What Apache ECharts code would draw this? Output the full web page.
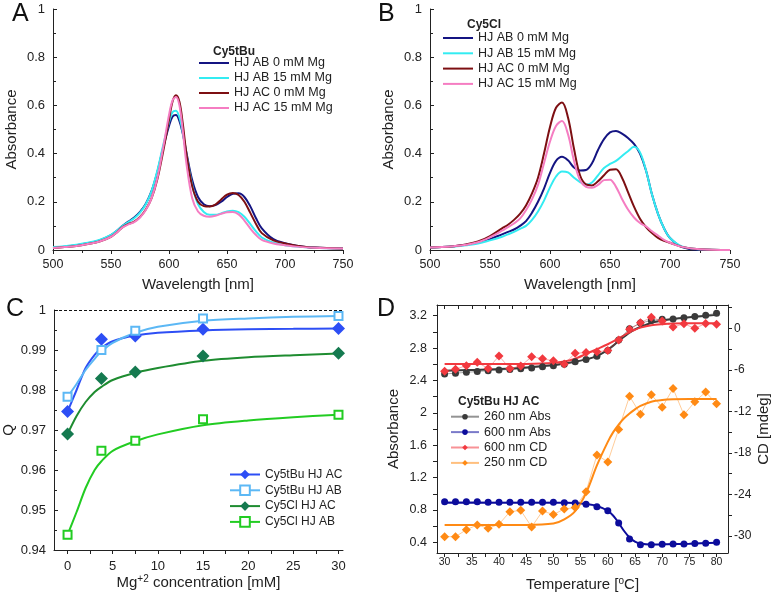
<!DOCTYPE html>
<html>
<head>
<meta charset="utf-8">
<script src="https://cdn.jsdelivr.net/npm/echarts@6/dist/echarts.min.js"></script>
<style>
html, body { margin: 0; padding: 0; background: #fff; }
#chart { width: 774px; height: 597px; }
</style>
</head>
<body>
<div id="chart"></div>
<script>
// ---- panel A : Cy5tBu spectra ----
var wlA = [500, 510, 520, 530, 540, 550, 555, 560, 565, 570, 575, 580, 585, 590, 595, 600, 603, 606, 609, 612, 615, 620, 625, 630, 635, 640, 645, 650, 655, 660, 665, 670, 675, 680, 690, 700, 710, 725, 750];
var tbuAB0  = [.010, .014, .020, .028, .040, .062, .080, .100, .118, .135, .158, .192, .245, .325, .425, .515, .553, .560, .535, .480, .405, .290, .220, .190, .182, .186, .200, .220, .233, .235, .220, .182, .132, .090, .045, .028, .018, .010, .006];
var tbuAB15 = [.012, .016, .022, .030, .042, .063, .080, .100, .116, .132, .155, .190, .245, .330, .435, .530, .572, .578, .550, .485, .395, .270, .190, .158, .146, .146, .152, .160, .163, .157, .138, .108, .077, .052, .030, .020, .014, .009, .006];
var tbuAC0  = [.008, .012, .017, .025, .035, .055, .073, .095, .108, .118, .137, .168, .215, .295, .410, .540, .615, .642, .615, .520, .400, .265, .200, .182, .180, .188, .210, .230, .237, .228, .200, .155, .108, .070, .040, .027, .018, .010, .006];
var tbuAC15 = [.008, .012, .017, .025, .035, .055, .073, .094, .106, .116, .135, .166, .215, .300, .425, .560, .620, .635, .600, .490, .360, .215, .160, .142, .138, .142, .150, .157, .158, .148, .122, .090, .062, .042, .027, .020, .014, .009, .006];

// ---- panel B : Cy5Cl spectra ----
var wlB = [500, 510, 520, 530, 540, 550, 560, 565, 570, 575, 580, 585, 590, 595, 600, 605, 610, 615, 620, 625, 630, 635, 640, 645, 650, 655, 660, 665, 670, 675, 680, 685, 690, 695, 700, 710, 725, 750];
var clAB0  = [.010, .012, .016, .022, .030, .045, .065, .075, .085, .100, .120, .155, .200, .255, .320, .370, .387, .372, .342, .330, .332, .360, .415, .460, .488, .494, .483, .465, .440, .400, .330, .230, .150, .090, .050, .012, .001, .000];
var clAB15 = [.010, .012, .015, .020, .027, .040, .055, .065, .075, .088, .100, .125, .160, .205, .260, .305, .326, .322, .300, .282, .271, .280, .310, .340, .357, .370, .390, .410, .428, .405, .330, .230, .150, .090, .050, .015, .003, .000];
var clAC0  = [.010, .012, .016, .023, .035, .058, .090, .105, .125, .150, .185, .235, .300, .400, .510, .590, .612, .550, .420, .310, .272, .268, .285, .310, .333, .335, .300, .240, .180, .130, .095, .070, .050, .038, .030, .013, .003, .000];
var clAC15 = [.010, .012, .016, .022, .032, .053, .080, .095, .110, .130, .165, .210, .270, .360, .450, .515, .535, .480, .370, .290, .262, .258, .270, .290, .292, .262, .212, .168, .135, .112, .098, .078, .060, .042, .030, .013, .003, .000];

// ---- panel C : Q vs Mg ----
var mgConc = [0, 3.75, 7.5, 15, 30];
var qTbuAC = [0.9746, 0.9927, 0.9935, 0.9952, 0.9954];
var qTbuAB = [0.9783, 0.9900, 0.9948, 0.9979, 0.9985];
var qClAC  = [0.9690, 0.9829, 0.9845, 0.9885, 0.9892];
var qClAB  = [0.9438, 0.9648, 0.9673, 0.9727, 0.9738];
var mgFit = [0, 1, 2, 3, 3.75, 5, 7.5, 10, 15, 20, 25, 30];
var fitTbuAC = [0.9746, 0.9800, 0.9855, 0.9888, 0.9905, 0.9922, 0.9936, 0.9943, 0.9949, 0.9952, 0.9953, 0.9954];
var fitTbuAB = [0.9783, 0.9815, 0.9850, 0.9878, 0.9896, 0.9918, 0.9943, 0.9958, 0.9973, 0.9979, 0.9983, 0.9985];
var fitClAC  = [0.9690, 0.9735, 0.9770, 0.9795, 0.9808, 0.9825, 0.9843, 0.9855, 0.9873, 0.9882, 0.9887, 0.9891];
var fitClAB  = [0.9438, 0.9495, 0.9555, 0.9600, 0.9622, 0.9648, 0.9672, 0.9689, 0.9712, 0.9724, 0.9732, 0.9738];

// ---- panel D : melting, Cy5tBu HJ AC ----
var tempPts = [30, 32, 34, 36, 38, 40, 42, 44, 46, 48, 50, 52, 54, 56, 58, 60, 62, 64, 66, 68, 70, 72, 74, 76, 78, 80];
var abs260 = [2.48, 2.49, 2.50, 2.51, 2.52, 2.53, 2.535, 2.545, 2.555, 2.57, 2.58, 2.60, 2.63, 2.66, 2.70, 2.77, 2.90, 3.04, 3.11, 3.14, 3.155, 3.16, 3.175, 3.19, 3.205, 3.23];
var abs600 = [0.90, 0.90, 0.90, 0.90, 0.895, 0.895, 0.895, 0.895, 0.895, 0.895, 0.895, 0.89, 0.885, 0.87, 0.84, 0.79, 0.64, 0.44, 0.37, 0.37, 0.376, 0.38, 0.38, 0.385, 0.39, 0.40];
var cd600 = [-6.2, -5.9, -5.4, -4.9, -5.8, -4.0, -5.8, -5.45, -4.1, -4.4, -4.7, -5.15, -3.6, -3.5, -3.4, -3.2, -1.7, -0.15, 0.8, 1.6, 1.05, 0.2, 0.65, 0.0, 0.7, 0.6];
var cd250 = [-30.1, -30.1, -29.1, -28.4, -28.9, -28.3, -26.5, -26.3, -28.7, -26.4, -26.9, -26.1, -25.9, -23.6, -18.3, -19.3, -14.6, -9.8, -12.4, -9.6, -11.4, -8.7, -12.5, -10.6, -9.2, -10.9];
var tempFit = [30, 35, 40, 45, 50, 52, 54, 56, 58, 60, 61, 62, 63, 64, 65, 66, 68, 70, 72, 75, 80];
var fit260 = [2.52, 2.53, 2.54, 2.56, 2.59, 2.61, 2.63, 2.66, 2.70, 2.78, 2.83, 2.89, 2.94, 2.99, 3.03, 3.06, 3.11, 3.14, 3.16, 3.18, 3.21];
var fit600 = [0.89, 0.89, 0.89, 0.89, 0.89, 0.888, 0.885, 0.875, 0.85, 0.79, 0.73, 0.64, 0.54, 0.46, 0.41, 0.385, 0.372, 0.375, 0.378, 0.382, 0.395];
var fitCd600 = [-5.16, -5.16, -5.16, -5.14, -5.0, -4.8, -4.4, -3.7, -3.0, -2.3, -1.9, -1.45, -1.0, -0.55, -0.2, 0.1, 0.45, 0.6, 0.68, 0.72, 0.73];
var fitCd250 = [-28.4, -28.4, -28.4, -28.4, -28.2, -27.6, -26.4, -23.8, -19.8, -16.4, -15.0, -13.9, -13.0, -12.3, -11.7, -11.2, -10.6, -10.35, -10.25, -10.2, -10.2];

var FONT = 'Liberation Sans, Arial, sans-serif';
var INK = '#222';

function pairs(xs, ys) {
	return xs.map(function (x, i) { return [x, ys[i]]; });
}

function merge(a, b) {
	var out = {};
	Object.keys(a).forEach(function (k) { out[k] = a[k]; });
	Object.keys(b || {}).forEach(function (k) {
		if (out[k] && typeof out[k] === 'object' && !Array.isArray(out[k]) && typeof b[k] === 'object' && !Array.isArray(b[k])) {
			out[k] = merge(out[k], b[k]);
		} else {
			out[k] = b[k];
		}
	});
	return out;
}

function axis(extra) {
	return merge({
		type: 'value',
		axisLine: { show: true, onZero: false, lineStyle: { color: INK, width: 1 } },
		axisTick: { show: true, inside: false, length: 4, lineStyle: { color: INK } },
		axisLabel: { color: INK, fontFamily: FONT, fontSize: 13, margin: 8 },
		splitLine: { show: false },
		nameLocation: 'middle',
		nameTextStyle: { color: INK, fontFamily: FONT, fontSize: 15 }
	}, extra);
}

function spec(name, xs, ys, color, gi) {
	return {
		name: name, type: 'line', xAxisIndex: gi, yAxisIndex: gi,
		data: pairs(xs, ys), symbol: 'none', smooth: 0.35,
		lineStyle: { color: color, width: 2 }, itemStyle: { color: color }
	};
}

function qPoints(name, ys, color, fill, symbol, size) {
	return {
		name: name, type: 'line', xAxisIndex: 2, yAxisIndex: 2, z: 4,
		data: pairs(mgConc, ys), symbol: symbol, symbolSize: size,
		itemStyle: { color: fill, borderColor: color, borderWidth: fill === '#fff' ? 2 : 0 },
		lineStyle: { color: color, width: 2, opacity: 0 }
	};
}

function qFit(ys, color) {
	return {
		name: 'fit', type: 'line', xAxisIndex: 2, yAxisIndex: 2, z: 3,
		data: pairs(mgFit, ys), symbol: 'none', smooth: 0.3,
		lineStyle: { color: color, width: 2 }
	};
}

function dPoints(name, ys, yi, color, symbol, size) {
	return {
		name: name, type: 'line', xAxisIndex: 3, yAxisIndex: yi, z: 4,
		data: pairs(tempPts, ys), symbol: symbol, symbolSize: size,
		itemStyle: { color: color },
		lineStyle: { color: color, width: 0.8, opacity: 0.55 }
	};
}

function dFit(ys, yi, color) {
	return {
		name: 'fit', type: 'line', xAxisIndex: 3, yAxisIndex: yi, z: 3,
		data: pairs(tempFit, ys), symbol: 'none', smooth: 0.3,
		lineStyle: { color: color, width: 2 }
	};
}

var navy = '#141482', cyan = '#33ecf2', darkRed = '#7d0f12', pink = '#f57dc2';
var blueAC = '#2d4ef5', blueAB = '#5cb8f5', greenACLine = '#1e8c30', greenACMark = '#157a50', greenAB = '#22cc22';
var dBlack = '#3a3a3a', dBlue = '#0c0c9c', dRed = '#f2393f', dOrange = '#ff8a14';

var specNames = ['HJ AB 0 mM Mg', 'HJ AB 15 mM Mg', 'HJ AC 0 mM Mg', 'HJ AC 15 mM Mg'];
var qNames = ['Cy5tBu HJ AC', 'Cy5tBu HJ AB', 'Cy5Cl HJ AC', 'Cy5Cl HJ AB'];
var dNames = ['260 nm Abs', '600 nm Abs', '600 nm CD', '250 nm CD'];

var legendText = { color: INK, fontFamily: FONT, fontSize: 12.5, lineHeight: 14 };

var option = {
	animation: false,
	backgroundColor: '#fff',
	grid: [
		{ left: 53, top: 9, width: 290, height: 241 },
		{ left: 430, top: 9, width: 300, height: 241 },
		{ left: 53, top: 310, width: 290, height: 240 },
		{ left: 437, top: 305, width: 291, height: 248 }
	],
	xAxis: [
		axis({ gridIndex: 0, min: 500, max: 750, interval: 50, minorTick: { show: true, splitNumber: 2, length: 3 },
			axisLabel: { fontSize: 12.5 }, name: 'Wavelength [nm]', nameGap: 27 }),
		axis({ gridIndex: 1, min: 500, max: 750, interval: 50, minorTick: { show: true, splitNumber: 2, length: 3 },
			axisLabel: { fontSize: 12.5 }, name: 'Wavelength [nm]', nameGap: 27 }),
		axis({ gridIndex: 2, min: -1.5, max: 30.5,
			axisTick: { customValues: [0, 2.5, 5, 7.5, 10, 12.5, 15, 17.5, 20, 22.5, 25, 27.5, 30] },
			axisLabel: { customValues: [0, 5, 10, 15, 20, 25, 30], margin: 10 },
			name: 'Mg{sup|+2} concentration [mM]', nameGap: 23,
			nameTextStyle: { rich: { sup: { fontSize: 10, verticalAlign: 'top', padding: [0, 0, 8, 0], fontFamily: FONT, color: INK } } } }),
		axis({ gridIndex: 3, min: 28.6, max: 82.1,
			axisTick: { customValues: [30, 32.5, 35, 37.5, 40, 42.5, 45, 47.5, 50, 52.5, 55, 57.5, 60, 62.5, 65, 67.5, 70, 72.5, 75, 77.5, 80] },
			axisLabel: { customValues: [30, 35, 40, 45, 50, 55, 60, 65, 70, 75, 80], fontSize: 10.5, margin: 4 },
			name: 'Temperature [{sup|o}C]', nameGap: 23,
			nameTextStyle: { rich: { sup: { fontSize: 10, verticalAlign: 'top', padding: [0, 0, 8, 0], fontFamily: FONT, color: INK } } } }),
		axis({ gridIndex: 3, min: 28.6, max: 82.1, position: 'top',
			axisTick: { inside: true, customValues: [30, 32.5, 35, 37.5, 40, 42.5, 45, 47.5, 50, 52.5, 55, 57.5, 60, 62.5, 65, 67.5, 70, 72.5, 75, 77.5, 80] },
			axisLabel: { show: false } })
	],
	yAxis: [
		axis({ gridIndex: 0, min: 0, max: 1, interval: 0.2, axisTick: { inside: true },
			minorTick: { show: true, splitNumber: 2, length: 3 }, name: 'Absorbance', nameGap: 34 }),
		axis({ gridIndex: 1, min: 0, max: 1, interval: 0.2, axisTick: { inside: true },
			minorTick: { show: true, splitNumber: 2, length: 3 }, name: 'Absorbance', nameGap: 34 }),
		axis({ gridIndex: 2, min: 0.94, max: 1, interval: 0.01, axisTick: { inside: true },
			minorTick: { show: true, splitNumber: 2, length: 3 }, name: 'Q', nameGap: 38 }),
		axis({ gridIndex: 3, min: 0.268, max: 3.332,
			axisTick: { customValues: [0.4, 0.6, 0.8, 1.0, 1.2, 1.4, 1.6, 1.8, 2.0, 2.2, 2.4, 2.6, 2.8, 3.0, 3.2] },
			axisLabel: { customValues: [0.4, 0.8, 1.2, 1.6, 2, 2.4, 2.8, 3.2], fontSize: 12.5, margin: 10 },
			name: 'Absorbance', nameGap: 36 }),
		axis({ gridIndex: 3, min: -32.46, max: 3.37, position: 'right',
			axisTick: { customValues: [-30, -27, -24, -21, -18, -15, -12, -9, -6, -3, 0, 3] },
			axisLabel: { customValues: [-30, -24, -18, -12, -6, 0], fontSize: 12, margin: 6 },
			name: 'CD [mdeg]', nameGap: 28 })
	],
	legend: [
		{ data: specNames, orient: 'vertical', left: 193, top: 51, itemWidth: 30, itemHeight: 14, itemGap: 1,
			textStyle: legendText, lineStyle: { width: 2 }, itemStyle: { opacity: 0 } },
		{ data: specNames, orient: 'vertical', left: 437, top: 26, itemWidth: 30, itemHeight: 14, itemGap: 1.3,
			textStyle: legendText, lineStyle: { width: 2 }, itemStyle: { opacity: 0 } },
		{ data: qNames, orient: 'vertical', left: 224, top: 462.5, itemWidth: 30, itemHeight: 12, itemGap: 1.8,
			textStyle: merge(legendText, { fontSize: 12 }), lineStyle: { opacity: 1, width: 2 } },
		{ data: dNames, orient: 'vertical', left: 445, top: 404.7, itemWidth: 28, itemHeight: 7, itemGap: 1.4,
			textStyle: legendText }
	],
	graphic: [
		{ type: 'text', left: 12, top: 2, style: { text: 'A', fontSize: 25, fontFamily: FONT, fill: '#111' } },
		{ type: 'text', left: 378, top: 2, style: { text: 'B', fontSize: 25, fontFamily: FONT, fill: '#111' } },
		{ type: 'text', left: 6, top: 297, style: { text: 'C', fontSize: 25, fontFamily: FONT, fill: '#111' } },
		{ type: 'text', left: 377, top: 297, style: { text: 'D', fontSize: 25, fontFamily: FONT, fill: '#111' } },
		{ type: 'text', left: 213, top: 46, style: { text: 'Cy5tBu', fontSize: 12, fontWeight: 'bold', fontFamily: FONT, fill: INK } },
		{ type: 'text', left: 467, top: 19, style: { text: 'Cy5Cl', fontSize: 12, fontWeight: 'bold', fontFamily: FONT, fill: INK } },
		{ type: 'text', left: 458, top: 396, style: { text: 'Cy5tBu HJ AC', fontSize: 12, fontWeight: 'bold', fontFamily: FONT, fill: INK } }
	],
	series: [
		spec(specNames[0], wlA, tbuAB0, navy, 0),
		spec(specNames[1], wlA, tbuAB15, cyan, 0),
		spec(specNames[2], wlA, tbuAC0, darkRed, 0),
		spec(specNames[3], wlA, tbuAC15, pink, 0),

		spec(specNames[0], wlB, clAB0, navy, 1),
		spec(specNames[1], wlB, clAB15, cyan, 1),
		spec(specNames[2], wlB, clAC0, darkRed, 1),
		spec(specNames[3], wlB, clAC15, pink, 1),

		merge(qFit(fitTbuAC, blueAC), {
			markLine: { silent: true, symbol: ['none', 'none'], label: { show: false },
				lineStyle: { color: '#111', type: [3, 2], width: 1 }, data: [{ yAxis: 1 }] }
		}),
		qFit(fitTbuAB, blueAB),
		qFit(fitClAC, greenACLine),
		qFit(fitClAB, greenAB),
		qPoints(qNames[0], qTbuAC, blueAC, blueAC, 'diamond', 13),
		qPoints(qNames[1], qTbuAB, blueAB, '#fff', 'rect', 8),
		qPoints(qNames[2], qClAC, greenACLine, greenACMark, 'diamond', 13),
		qPoints(qNames[3], qClAB, greenAB, '#fff', 'rect', 8),

		dFit(fit260, 3, dBlack),
		dFit(fit600, 3, dBlue),
		dFit(fitCd600, 4, dRed),
		dFit(fitCd250, 4, dOrange),
		dPoints(dNames[0], abs260, 3, dBlack, 'circle', 7),
		dPoints(dNames[1], abs600, 3, dBlue, 'circle', 7),
		dPoints(dNames[2], cd600, 4, dRed, 'diamond', 9),
		dPoints(dNames[3], cd250, 4, dOrange, 'diamond', 9)
	]
};

var myChart = echarts.init(document.getElementById('chart'));
myChart.setOption(option);
</script>
</body>
</html>
